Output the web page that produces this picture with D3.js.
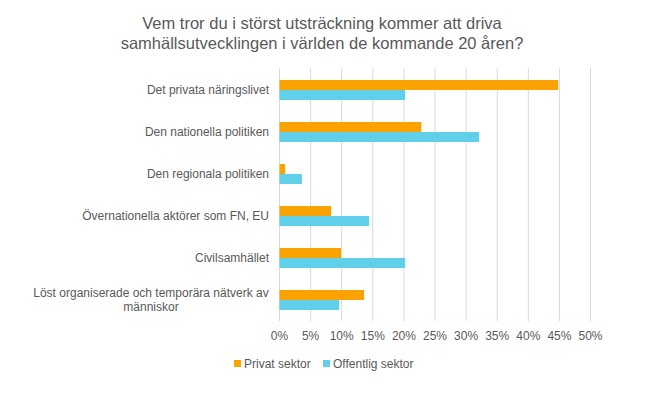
<!DOCTYPE html>
<html>
<head>
<meta charset="utf-8">
<script src="https://cdn.jsdelivr.net/npm/d3@7"></script>
<style>
  body { margin: 0; background: #fff; }
  text { font-family: "Liberation Sans", Arial, sans-serif; fill: #595959; }
</style>
</head>
<body>
<div id="chart"></div>
<script>
// --- Data ---
const categories = [
    'Det privata näringslivet',
    'Den nationella politiken',
    'Den regionala politiken',
    'Övernationella aktörer som FN, EU',
    'Civilsamhället',
    'Löst organiserade och temporära nätverk av människor'
];
const seriesNames = ['Privat sektor', 'Offentlig sektor'];
const privatValues = [44.8, 22.8, 0.9, 8.3, 9.9, 13.6];
const offentligValues = [20.2, 32.1, 3.6, 14.4, 20.2, 9.6];
const xTicks = [0, 5, 10, 15, 20, 25, 30, 35, 40, 45, 50];
const titleLines = [
    'Vem tror du i störst utsträckning kommer att driva',
    'samhällsutvecklingen i världen de kommande 20 åren?'
];

const colors = ['#F9A200', '#5FCFEA'];

// --- Layout ---
const width = 648, height = 395;
const plot = { left: 279.5, right: 590.5, top: 69, bottom: 321 };

const svg = d3.select('#chart')
    .append('svg')
    .attr('width', width)
    .attr('height', height);

const x = d3.scaleLinear().domain([0, 50]).range([plot.left, plot.right]);
const y = d3.scaleBand().domain(categories).range([plot.top, plot.bottom])
    .paddingInner(0.524).paddingOuter(0.262);
const ySub = d3.scaleBand().domain(seriesNames).range([0, y.bandwidth()]);

// title
svg.append('g').selectAll('text')
    .data(titleLines)
    .enter()
    .append('text')
    .attr('x', 322)
    .attr('y', (d, i) => 29 + i * 20)
    .attr('text-anchor', 'middle')
    .style('font-size', '16.5px')
    .text(d => d);

// gridlines
svg.append('g').selectAll('line')
    .data(xTicks)
    .enter()
    .append('line')
    .attr('x1', d => x(d)).attr('x2', d => x(d))
    .attr('y1', plot.top - 1).attr('y2', plot.bottom)
    .attr('stroke', '#d9d9d9')
    .attr('stroke-width', 1);

// x tick labels
svg.append('g').selectAll('text')
    .data(xTicks)
    .enter()
    .append('text')
    .attr('x', d => x(d))
    .attr('y', 340)
    .attr('text-anchor', 'middle')
    .style('font-size', '12px')
    .text(d => d + '%');

// bars
const rows = categories.map((c, i) => ({ cat: c, vals: [privatValues[i], offentligValues[i]] }));
const groups = svg.append('g').selectAll('g')
    .data(rows)
    .enter()
    .append('g')
    .attr('transform', d => `translate(0,${y(d.cat)})`);

groups.selectAll('rect')
    .data(d => d.vals.map((v, j) => ({ name: seriesNames[j], value: v, color: colors[j] })))
    .enter()
    .append('rect')
    .attr('x', x(0))
    .attr('y', d => ySub(d.name))
    .attr('width', d => x(d.value) - x(0))
    .attr('height', ySub.bandwidth())
    .attr('fill', d => d.color);

// category labels (the long one wraps onto two centred lines)
const labelLines = {
    'Löst organiserade och temporära nätverk av människor':
        ['Löst organiserade och temporära nätverk av', 'människor']
};
categories.forEach(c => {
    const cy = y(c) + y.bandwidth() / 2;
    const lines = labelLines[c];
    if (!lines) {
        svg.append('text')
            .attr('x', 269)
            .attr('y', cy + 4)
            .attr('text-anchor', 'end')
            .style('font-size', '12px')
            .text(c);
    } else {
        svg.selectAll(null)
            .data(lines)
            .enter()
            .append('text')
            .attr('x', 151)
            .attr('y', (d, i) => cy - 3 + i * 14)
            .attr('text-anchor', 'middle')
            .style('font-size', '12px')
            .text(d => d);
    }
});

// legend
const legendX = [234, 323];
const legend = svg.append('g').selectAll('g')
    .data(seriesNames)
    .enter()
    .append('g')
    .attr('transform', (d, i) => `translate(${legendX[i]},357)`);
legend.append('rect')
    .attr('width', 7).attr('height', 7)
    .attr('y', 3)
    .attr('fill', (d, i) => colors[i]);
legend.append('text')
    .attr('x', 10)
    .attr('y', 10.5)
    .style('font-size', '12px')
    .text(d => d);
</script>
</body>
</html>
